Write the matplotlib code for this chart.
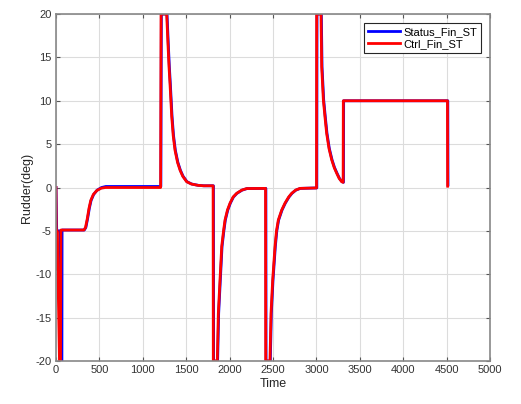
import matplotlib
matplotlib.use("Agg")
from matplotlib import pyplot as plt

plt.rcParams['font.family'] = ['Liberation Sans', 'DejaVu Sans']
plt.rcParams['axes.unicode_minus'] = False

# Ctrl_Fin_ST (red)
t_ctrl = [0, 6, 10, 14, 40, 52, 56, 322, 340, 360, 380, 400, 430, 470, 520, 570,
          1205, 1210, 1275, 1290, 1302, 1313, 1333, 1350, 1371, 1400, 1429, 1460, 1505, 1560, 1636, 1700, 1810,
          1812, 1858, 1870, 1889, 1909, 1930, 1947, 1975, 2005, 2040, 2081, 2140, 2197, 2414,
          2416, 2465, 2477, 2496, 2523, 2540, 2561, 2600, 2638, 2680, 2715, 2760, 2811, 3001,
          3003, 3053, 3061, 3080, 3100, 3118, 3145, 3176, 3205, 3234, 3262, 3291, 3308,
          3310, 4510, 4512]
v_ctrl = [0, -9.4, -5, -5, -20, -20, -4.9, -4.9, -4.6, -3.6, -2.4, -1.5, -0.8, -0.35, -0.08, 0.0,
          0.0, 20, 20, 16.5, 13.9, 12.0, 8.2, 6.0, 4.3, 2.9, 2.0, 1.3, 0.67, 0.4, 0.25, 0.2, 0.2,
          -20, -20, -14.5, -10.7, -6.8, -5.0, -3.75, -2.6, -1.8, -1.1, -0.67, -0.3, -0.12, -0.1,
          -20, -20, -14.5, -10.7, -6.8, -5.0, -3.75, -2.6, -1.8, -1.1, -0.67, -0.3, -0.1, -0.05,
          20, 20, 13.9, 10.1, 8.0, 6.25, 4.5, 3.2, 2.3, 1.64, 1.05, 0.67, 0.6,
          10, 10, 0.15]

# Status_Fin_ST (blue)
t_stat = [0, 8, 16, 48, 62, 68, 70, 326, 344, 364, 384, 404, 434, 474, 524, 574,
          1208, 1214, 1279, 1294, 1306, 1317, 1337, 1354, 1375, 1404, 1433, 1464, 1509, 1564, 1640, 1704, 1814,
          1816, 1862, 1874, 1893, 1913, 1934, 1951, 1979, 2009, 2044, 2085, 2144, 2201, 2418,
          2420, 2469, 2481, 2500, 2527, 2544, 2565, 2604, 2642, 2684, 2719, 2764, 2815, 3005,
          3007, 3057, 3065, 3084, 3104, 3122, 3149, 3180, 3209, 3238, 3266, 3295, 3312,
          3314, 4514, 4516]
v_stat = [0, -5, -5, -5, -20, -20, -4.9, -4.9, -4.6, -3.6, -2.4, -1.5, -0.8, -0.3, 0.0, 0.12,
          0.12, 20, 20, 16.5, 13.9, 12.0, 8.2, 6.0, 4.3, 2.9, 2.0, 1.3, 0.67, 0.4, 0.25, 0.2, 0.2,
          -20, -20, -14.5, -10.7, -6.8, -5.0, -3.75, -2.6, -1.8, -1.1, -0.67, -0.3, -0.12, -0.1,
          -20, -20, -14.5, -10.7, -6.8, -5.0, -3.75, -2.6, -1.8, -1.1, -0.67, -0.3, -0.1, -0.05,
          20, 20, 13.9, 10.1, 8.0, 6.25, 4.5, 3.2, 2.3, 1.64, 1.05, 0.67, 0.6,
          10, 10, 0.3]

x_ticks = [0, 500, 1000, 1500, 2000, 2500, 3000, 3500, 4000, 4500, 5000]
y_ticks = [-20, -15, -10, -5, 0, 5, 10, 15, 20]

fig = plt.figure(figsize=(5.21, 4.04), dpi=100)
ax = fig.add_axes([0.1075, 0.1064, 0.833, 0.8589])

ax.plot(t_stat, v_stat, color=(0, 0, 1), lw=2, label='Status_Fin_ST')
ax.plot(t_ctrl, v_ctrl, color=(1, 0, 0), lw=2, label='Ctrl_Fin_ST')

ax.set_xlim(0, 5000)
ax.set_ylim(-20, 20)
ax.set_xticks(x_ticks)
ax.set_yticks(y_ticks)
ax.grid(True, color='#dcdcdc', lw=0.8)
ax.set_axisbelow(True)
for s in ax.spines.values():
    s.set_color('#888888')
    s.set_linewidth(1.2)
ax.tick_params(direction='in', top=True, right=True, length=3, colors='#333333',
               labelsize=8, pad=3)
ax.tick_params(color='#555555')
ax.set_xlabel('Time', fontsize=9, color='#262626', labelpad=2)
ax.set_ylabel('Rudder(deg)', fontsize=9, color='#262626', labelpad=2)

leg = ax.legend(loc='upper right', fontsize=8, fancybox=False, framealpha=1,
                edgecolor='#262626', borderaxespad=0.8, handlelength=2.9,
                handletextpad=0.3, borderpad=0.35, labelspacing=0.2)
leg.get_frame().set_linewidth(0.8)

fig.savefig('out.png', dpi=100)
